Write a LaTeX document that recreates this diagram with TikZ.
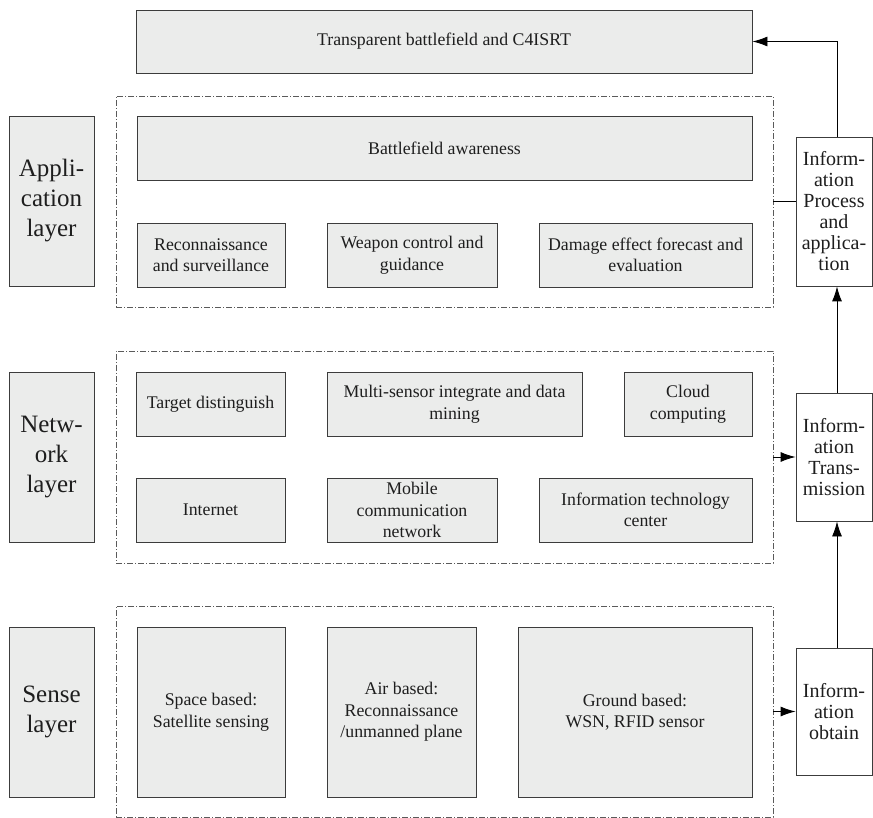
\documentclass[tikz,border=0pt]{standalone}
\usepackage{fontspec}
\setmainfont{Liberation Serif}
\usetikzlibrary{arrows.meta}
\definecolor{boxfill}{RGB}{235,236,235}
\definecolor{boxline}{RGB}{60,60,60}
\definecolor{frameline}{RGB}{90,90,90}
\definecolor{txt}{RGB}{30,30,30}
\begin{document}
\begin{tikzpicture}[x=1pt,y=-1pt,
  cell/.style={draw=boxline, line width=0.9pt, fill=boxfill, inner sep=0pt,
    align=center, text=txt, font=\fontsize{17.8}{21.5}\selectfont},
  layerlabel/.style={cell, minimum width=85pt, minimum height=170pt,
    font=\fontsize{25}{30}\selectfont},
  infobox/.style={draw=boxline, line width=0.9pt, fill=white, inner sep=0pt,
    align=center, text=txt, font=\fontsize{20}{21}\selectfont},
  layerframe/.style={draw=frameline, line width=0.8pt,
    dash pattern=on 6pt off 2pt on 1pt off 2pt, inner sep=0pt,
    minimum width=657pt},
  link/.style={draw=black, line width=0.9pt},
  arr/.style={link, -{Latex[length=15pt,width=10pt]}}
]
\useasboundingbox (0,0) rectangle (873,818);

% top goal
\node[cell, minimum width=616pt, minimum height=63pt] (goal) at (444,41.5)
  {Transparent battlefield and C4ISRT};

% layer frames
\node[layerframe, minimum height=211pt] (appframe) at (444.5,201.5) {};
\node[layerframe, minimum height=212pt] (netframe) at (444.5,457) {};
\node[layerframe, minimum height=211pt] (senseframe) at (444.5,711.5) {};

% layer names
\node[layerlabel] (applabel) at (51.5,201) {Appli-\\cation\\layer};
\node[layerlabel] (netlabel) at (51.5,457) {Netw-\\ork\\layer};
\node[layerlabel] (senselabel) at (51.5,712) {Sense\\layer};

% application layer
\node[cell, minimum width=615pt, minimum height=64pt] (aware) at (444.5,148)
  {Battlefield awareness};
\node[cell, minimum width=148pt, minimum height=64pt] (recon) at (211,255)
  {Reconnaissance\\and surveillance};
\node[cell, minimum width=170pt, minimum height=64pt] (weapon) at (412,255)
  {Weapon control and\\guidance};
\node[cell, minimum width=213pt, minimum height=64pt] (damage) at (645.5,255)
  {Damage effect forecast and\\evaluation};

% network layer
\node[cell, minimum width=149pt, minimum height=64pt] (target) at (210.5,404)
  {Target distinguish};
\node[cell, minimum width=255pt, minimum height=64pt] (multi) at (454.5,404)
  {Multi-sensor integrate and data\\mining};
\node[cell, minimum width=128pt, minimum height=64pt] (cloud) at (688,404)
  {Cloud\\computing};
\node[cell, minimum width=149pt, minimum height=64pt] (internet) at (210.5,510)
  {Internet};
\node[cell, minimum width=170pt, minimum height=64pt] (mobile) at (412,510)
  {Mobile\\communication\\network};
\node[cell, minimum width=213pt, minimum height=64pt] (ittech) at (645.5,510)
  {Information technology\\center};

% sense layer
\node[cell, minimum width=148pt, minimum height=170pt] (space) at (211,712)
  {Space based:\\Satellite sensing};
\node[cell, minimum width=149pt, minimum height=170pt] (air) at (401.5,712)
  {Air based:\\Reconnaissance\\/unmanned plane};
\node[cell, minimum width=234pt, minimum height=170pt] (ground) at (635,712)
  {Ground based:\\WSN, RFID sensor};

% information flow boxes
\node[infobox, minimum width=76pt, minimum height=149pt] (proc) at (834,211.5)
  {Inform-\\ation\\Process\\and\\applica-\\tion};
\node[infobox, minimum width=76pt, minimum height=128pt] (trans) at (834,457)
  {Inform-\\ation\\Trans-\\mission};
\node[infobox, minimum width=76pt, minimum height=127pt] (obtain) at (834,711.5)
  {Inform-\\ation\\obtain};

\coordinate (xl) at (837,0);

% connectors
\draw[arr] (proc.north -| xl) |- (goal.east);
\draw[link] (appframe.east) -- (appframe.east -| proc.west);
\draw[arr] (trans.north -| xl) -- (proc.south -| xl);
\draw[arr] (netframe.east) -- (netframe.east -| trans.west);
\draw[arr] (obtain.north -| xl) -- (trans.south -| xl);
\draw[arr] (senseframe.east) -- (senseframe.east -| obtain.west);
\end{tikzpicture}
\end{document}
